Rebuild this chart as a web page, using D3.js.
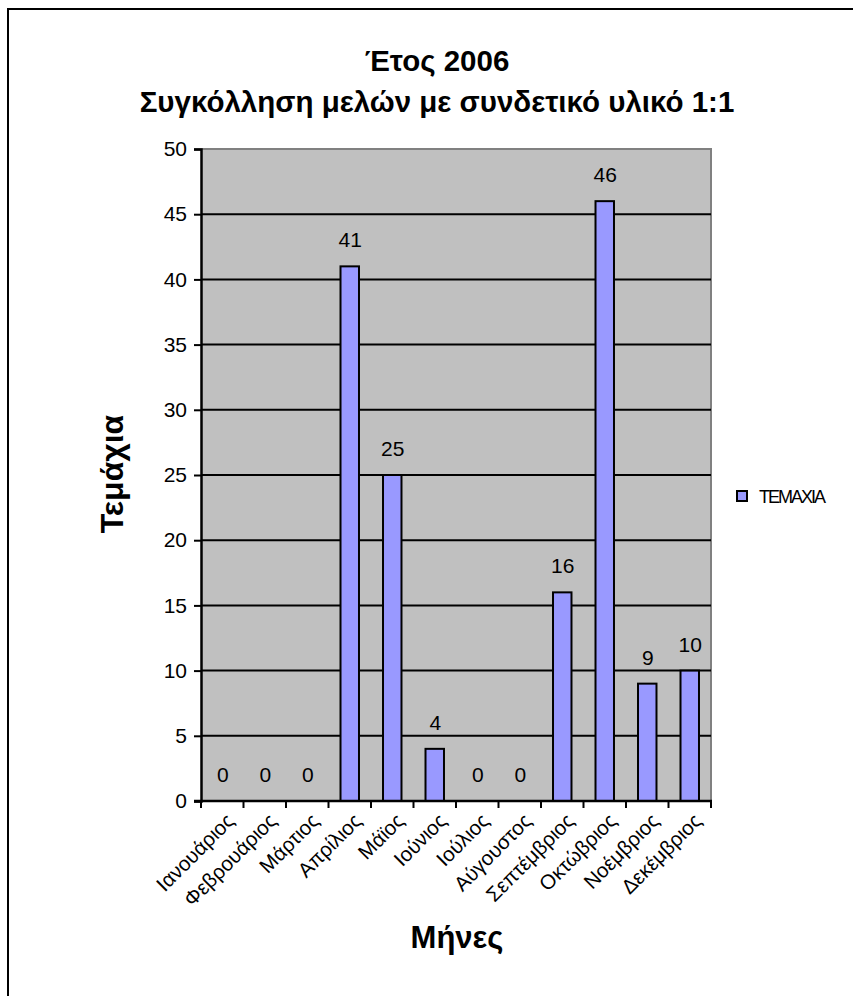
<!DOCTYPE html>
<html>
<head>
<meta charset="utf-8">
<script src="https://cdn.jsdelivr.net/npm/d3@7"></script>
<style>
  html, body { margin: 0; padding: 0; background: #fff; }
  svg { display: block; font-family: "Liberation Sans", Arial, sans-serif; }
</style>
</head>
<body>
<svg id="chart" width="853" height="996"></svg>
<script>
const months = ["Ιανουάριος","Φεβρουάριος","Μάρτιος","Απρίλιος","Μάϊος","Ιούνιος","Ιούλιος","Αύγουστος","Σεπτέμβριος","Οκτώβριος","Νοέμβριος","Δεκέμβριος"];
const values = [0,0,0,41,25,4,0,0,16,46,9,10];
const yTicks = [0,5,10,15,20,25,30,35,40,45,50];
const titleLines = ["Έτος 2006","Συγκόλληση μελών με συνδετικό υλικό 1:1"];
const seriesName = "ΤΕΜΑΧΙΑ";
const xTitle = "Μήνες";
const yTitle = "Τεμάχια";

const svg = d3.select("#chart");
// outer border
svg.append("rect").attr("x", 8).attr("y", 9).attr("width", 860).attr("height", 1000)
  .attr("fill", "#fff").attr("stroke", "#000").attr("stroke-width", 2);

const L = 201, R = 711, T = 149, B = 801;
const x = d3.scaleBand().domain(months).range([L, R]).paddingInner(0).paddingOuter(0);
const y = d3.scaleLinear().domain([0, 50]).range([B, T]);

// plot background
svg.append("rect").attr("x", L).attr("y", T).attr("width", R - L).attr("height", B - T)
  .attr("fill", "#C0C0C0");
// top and right gray border
svg.append("path").attr("d", `M${L},${T}H${R}V${B}`).attr("fill", "none")
  .attr("stroke", "#808080").attr("stroke-width", 2);

// gridlines
svg.append("g").selectAll("line").data(yTicks.filter(d => d > 0 && d < 50)).join("line")
  .attr("x1", L).attr("x2", R).attr("y1", d => y(d)).attr("y2", d => y(d))
  .attr("stroke", "#000").attr("stroke-width", 2);

// bars
const barW = x.bandwidth() / 2.3;
svg.append("g").selectAll("rect").data(values.map((v, i) => ({m: months[i], v})).filter(d => d.v > 0)).join("rect")
  .attr("x", d => x(d.m) + (x.bandwidth() - barW) / 2)
  .attr("y", d => y(d.v))
  .attr("width", barW)
  .attr("height", d => y(0) - y(d.v))
  .attr("fill", "#9999FF").attr("stroke", "#000").attr("stroke-width", 2);

// value labels
svg.append("g").selectAll("text").data(values.map((v, i) => ({m: months[i], v}))).join("text")
  .attr("x", d => x(d.m) + x.bandwidth() / 2 + 0.5)
  .attr("y", d => y(d.v) - 19)
  .attr("text-anchor", "middle").attr("font-size", 21).attr("fill", "#000")
  .text(d => d.v);

// y axis
const yAxis = d3.axisLeft(y).tickValues(yTicks).tickSize(7).tickPadding(7);
const gy = svg.append("g").attr("transform", `translate(${L},0)`).call(yAxis);
gy.select(".domain").attr("stroke", "#000").attr("stroke-width", 2.5);
gy.selectAll(".tick line").attr("stroke", "#000").attr("stroke-width", 2);
gy.selectAll(".tick text").attr("font-size", 21).attr("font-family", "Liberation Sans, Arial, sans-serif").attr("fill", "#000");

// x axis
svg.append("line").attr("x1", L - 7).attr("x2", R + 1).attr("y1", B).attr("y2", B)
  .attr("stroke", "#000").attr("stroke-width", 2.5);
const bounds = months.map(m => x(m)).concat([R]);
svg.append("g").selectAll("line").data(bounds).join("line")
  .attr("x1", d => d).attr("x2", d => d).attr("y1", B).attr("y2", B + 7)
  .attr("stroke", "#000").attr("stroke-width", 2);

// x labels
svg.append("g").selectAll("text").data(months).join("text")
  .attr("transform", m => `translate(${x(m) + x.bandwidth() / 2 + 8},${B + 16}) rotate(-45)`)
  .attr("text-anchor", "end").attr("dy", "0.35em").attr("font-size", 20.5).attr("fill", "#000")
  .text(m => m);

// title
svg.append("g").selectAll("text").data(titleLines).join("text")
  .attr("x", 437).attr("y", (d, i) => 71 + i * 41)
  .attr("text-anchor", "middle").attr("font-size", 29.5).attr("font-weight", "bold")
  .text(d => d);

// axis titles
svg.append("text").attr("x", 457).attr("y", 948).attr("text-anchor", "middle")
  .attr("font-size", 31).attr("font-weight", "bold").text(xTitle);
svg.append("text").attr("transform", "translate(123,474) rotate(-90)").attr("text-anchor", "middle")
  .attr("font-size", 32).attr("font-weight", "bold").text(yTitle);

// legend
svg.append("rect").attr("x", 737).attr("y", 491).attr("width", 10).attr("height", 10)
  .attr("fill", "#9999FF").attr("stroke", "#000").attr("stroke-width", 2);
svg.append("text").attr("x", 759).attr("y", 503).attr("font-size", 18)
  .attr("letter-spacing", -2).text(seriesName);
</script>
</body>
</html>
